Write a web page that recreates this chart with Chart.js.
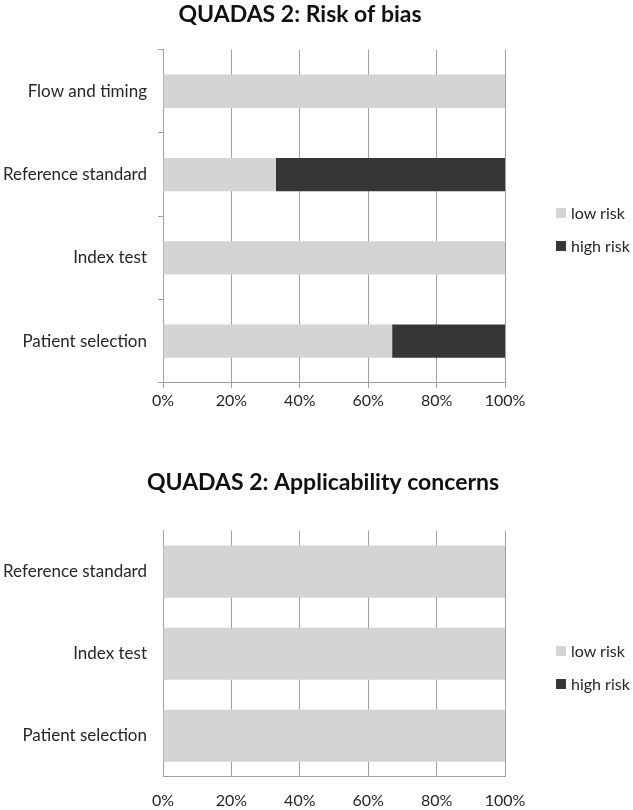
<!DOCTYPE html>
<html lang="en">
<head>
<meta charset="utf-8">
<title>QUADAS 2</title>
<script src="https://cdn.jsdelivr.net/npm/chart.js@4.4.0/dist/chart.umd.min.js"></script>
<style>
    html, body { margin: 0; padding: 0; background: #fff; }
    #lienzo { position: relative; width: 633px; height: 810px; overflow: hidden; font-family: Lato, 'Open Sans', sans-serif; }
    .panel { position: absolute; left: 0; width: 633px; }
    #panel-sesgo { top: 0; height: 430px; }
    #panel-aplic { top: 430px; height: 395px; }
    .leyenda { position: absolute; left: 556px; margin: 0; padding: 0; list-style: none; font-size: 16px; color: #262626; }
    .leyenda li { display: flex; align-items: center; height: 19px; margin-bottom: 14px; white-space: nowrap; }
    .leyenda span.muestra { display: inline-block; width: 10px; height: 10px; margin-right: 5px; }
    #leyenda-sesgo { top: 203px; }
    #leyenda-aplic { top: 211px; }
</style>
</head>
<body>
<div id="lienzo">
    <div class="panel" id="panel-sesgo">
        <canvas id="grafico-sesgo" width="633" height="430"></canvas>
        <ul class="leyenda" id="leyenda-sesgo"></ul>
    </div>
    <div class="panel" id="panel-aplic">
        <canvas id="grafico-aplic" width="633" height="395"></canvas>
        <ul class="leyenda" id="leyenda-aplic"></ul>
    </div>
</div>
<script>
// ── DATOS ─────────────────────────────────────
const categoriasSesgo = ['Flow and timing', 'Reference standard', 'Index test', 'Patient selection'];
const sesgoBajo = [100, 33, 100, 67];
const sesgoAlto = [0, 67, 0, 33];

const categoriasAplic = ['Reference standard', 'Index test', 'Patient selection'];
const aplicBajo = [100, 100, 100];
const aplicAlto = [0, 0, 0];

const ticksPct = [0, 20, 40, 60, 80, 100];
const nombresSeries = ['low risk', 'high risk'];
const coloresSeries = ['#d4d4d4', '#363636'];

const FUENTE = "Lato, 'Open Sans', sans-serif";
const GRIS_REJILLA = '#a0a0a0';
const COLOR_TEXTO = '#262626';

// ── PLUGIN: recentrar el título en una x dada ──
const centrarTitulo = {
    id: 'centrarTitulo',
    afterLayout(chart, args, opts) {
        const t = chart.titleBlock;
        if (!t || opts.centro == null) return;
        const medio = (t.right - t.left) / 2;
        t.left = opts.centro - medio;
        t.right = opts.centro + medio;
    }
};

// ── LEYENDA HTML a partir de los datasets ─────
const pintarLeyenda = (grafico, idLista) => {
    const lista = document.getElementById(idLista);
    grafico.data.datasets.forEach(ds => {
        const li = document.createElement('li');
        const muestra = document.createElement('span');
        muestra.className = 'muestra';
        muestra.style.background = ds.backgroundColor;
        li.appendChild(muestra);
        li.appendChild(document.createTextNode(ds.label));
        lista.appendChild(li);
    });
};

// ── GRÁFICO DE BARRAS APILADAS ────────────────
const crearGrafico = (idCanvas, idLeyenda, titulo, categorias, bajo, alto, cfg) => {
    const grafico = new Chart(document.getElementById(idCanvas), {
        type: 'bar',
        plugins: [centrarTitulo],
        data: {
            labels: categorias,
            datasets: [
                { label: nombresSeries[0], data: bajo, backgroundColor: coloresSeries[0] },
                { label: nombresSeries[1], data: alto, backgroundColor: coloresSeries[1] }
            ].map(ds => Object.assign(ds, {
                borderWidth: 0,
                barPercentage: cfg.barra,
                categoryPercentage: 1
            }))
        },
        options: {
            indexAxis: 'y',
            responsive: false,
            animation: false,
            devicePixelRatio: 1,
            layout: { padding: cfg.relleno },
            plugins: {
                legend: { display: false },
                tooltip: { enabled: false },
                centrarTitulo: { centro: cfg.centroTitulo },
                title: {
                    display: true,
                    text: titulo,
                    color: '#111',
                    font: { family: FUENTE, size: 23, weight: 'bold' },
                    padding: cfg.tituloRelleno
                }
            },
            scales: {
                x: {
                    type: 'linear',
                    stacked: true,
                    min: 0,
                    max: 100,
                    afterBuildTicks: s => { s.ticks = ticksPct.map(v => ({ value: v })); },
                    grid: {
                        color: GRIS_REJILLA,
                        drawTicks: cfg.marcasX,
                        tickLength: 5
                    },
                    border: { display: true, color: GRIS_REJILLA },
                    ticks: {
                        callback: v => v + '%',
                        padding: cfg.rellenoX,
                        maxRotation: 0,
                        color: COLOR_TEXTO,
                        font: { family: FUENTE, size: 16 }
                    }
                },
                y: {
                    type: 'category',
                    stacked: true,
                    // ancho fijo para que el área del gráfico empiece en x = 163
                    afterFit: s => { s.width = 163; },
                    grid: {
                        display: true,
                        offset: true,
                        drawOnChartArea: false,
                        drawTicks: cfg.marcasY,
                        tickLength: 5,
                        color: GRIS_REJILLA
                    },
                    border: { display: true, color: GRIS_REJILLA },
                    ticks: {
                        padding: cfg.rellenoY,
                        color: COLOR_TEXTO,
                        font: { family: FUENTE, size: 17 }
                    }
                }
            }
        }
    });
    pintarLeyenda(grafico, idLeyenda);
    return grafico;
};

document.addEventListener('DOMContentLoaded', () => {
    crearGrafico('grafico-sesgo', 'leyenda-sesgo', 'QUADAS 2: Risk of bias',
        categoriasSesgo, sesgoBajo, sesgoAlto, {
            barra: 0.4,
            relleno: { left: 0, right: 128, top: 0, bottom: 17 },
            tituloRelleno: { top: 1, bottom: 21 },
            centroTitulo: 300,
            marcasX: true,
            marcasY: true,
            rellenoX: 3,
            rellenoY: 11
        });

    crearGrafico('grafico-aplic', 'leyenda-aplic', 'QUADAS 2: Applicability concerns',
        categoriasAplic, aplicBajo, aplicAlto, {
            barra: 0.635,
            relleno: { left: 0, right: 128, top: 0, bottom: 1 },
            tituloRelleno: { top: 39, bottom: 34 },
            centroTitulo: 323,
            marcasX: false,
            marcasY: false,
            rellenoX: 14,
            rellenoY: 16
        });
});
</script>
</body>
</html>
